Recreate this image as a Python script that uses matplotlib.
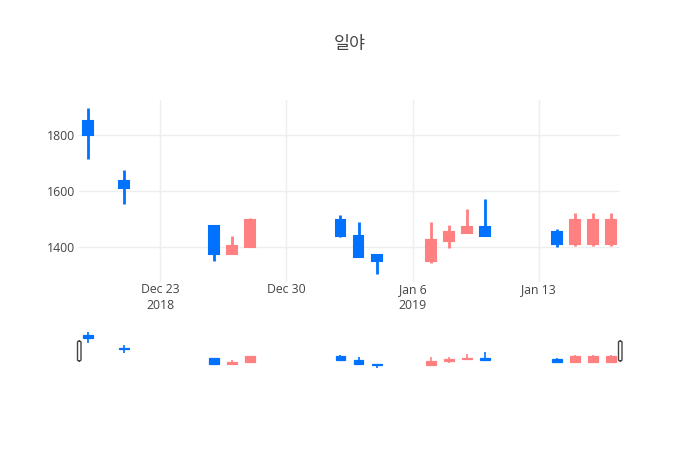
import matplotlib
matplotlib.use("Agg")
import matplotlib.pyplot as plt
import matplotlib.dates as mdates
from matplotlib.patches import FancyBboxPatch
import pandas as pd

plt.rcParams['font.family'] = ['Open Sans', 'Noto Sans CJK KR', 'DejaVu Sans']

# candle data
dates = ['2018-12-19', '2018-12-21', '2018-12-26', '2018-12-27', '2018-12-28',
         '2019-01-02', '2019-01-03', '2019-01-04', '2019-01-07', '2019-01-08',
         '2019-01-09', '2019-01-10', '2019-01-14', '2019-01-15', '2019-01-16',
         '2019-01-17']
opens = [1850, 1635, 1475, 1375, 1400, 1495, 1440, 1370, 1350, 1420, 1450, 1470, 1455, 1410, 1410, 1410]
highs = [1895, 1675, 1475, 1440, 1505, 1515, 1490, 1370, 1490, 1480, 1535, 1570, 1465, 1520, 1520, 1520]
lows = [1715, 1555, 1350, 1375, 1400, 1435, 1365, 1305, 1345, 1395, 1450, 1440, 1400, 1405, 1405, 1405]
closes = [1800, 1610, 1375, 1405, 1495, 1440, 1365, 1350, 1425, 1455, 1470, 1440, 1410, 1495, 1495, 1495]

tick_dates = ['2018-12-23', '2018-12-30', '2019-01-06', '2019-01-13']
tick_labels = ['Dec 23\n2018', 'Dec 30', 'Jan 6\n2019', 'Jan 13']
y_ticks = [1400, 1600, 1800]

UP = '#ff8080'
DOWN = '#0072ff'

x = mdates.date2num(pd.to_datetime(dates))
colors = [UP if c >= o else DOWN for o, c in zip(opens, closes)]
xmin, xmax = x.min() - 0.5, x.max() + 0.5
span = max(highs) - min(lows)
ymin, ymax = min(lows) - 0.05 * span, max(highs) + 0.05 * span


def draw_candles(ax, lw):
    ax.vlines(x, lows, highs, colors=colors, linewidth=lw, zorder=2)
    bottoms = [min(o, c) for o, c in zip(opens, closes)]
    heights = [max(abs(c - o), 1) for o, c in zip(opens, closes)]
    ax.bar(x, heights, width=0.55, bottom=bottoms, color=colors,
           edgecolor=colors, linewidth=lw * 0.75, zorder=3)


fig = plt.figure(figsize=(7, 4.5), dpi=100)
W, H = 700, 450

ax = fig.add_axes([79 / W, 1 - 282 / H, 541 / W, 182 / H])
draw_candles(ax, 2)
ax.set_xlim(xmin, xmax)
ax.set_ylim(ymin, ymax)
ax.set_xticks(mdates.date2num(pd.to_datetime(tick_dates)))
ax.set_xticklabels(tick_labels)
ax.set_yticks(y_ticks)
ax.set_yticklabels([str(v) for v in y_ticks])
ax.tick_params(length=0, labelsize=8.8, colors='#444444', pad=3)
ax.tick_params(axis='x', pad=1)
for lab in ax.get_xticklabels():
    lab.set_linespacing(1.3)
ax.grid(True, color='#eeeeee', linewidth=1, zorder=0)
ax.set_axisbelow(True)
for s in ax.spines.values():
    s.set_visible(False)

# range slider
sl = fig.add_axes([79 / W, 1 - 370 / H, 541 / W, 40 / H])
draw_candles(sl, 1.2)
sl.set_xlim(xmin, xmax)
sl.set_ylim(ymin, ymax)
sl.set_xticks([])
sl.set_yticks([])
for s in sl.spines.values():
    s.set_visible(False)

for px in (77.5, 618.5):
    fig.patches.append(FancyBboxPatch((px / W, 1 - 361 / H), 3.5 / W, 20 / H,
                                      boxstyle='round,pad=0,rounding_size=0.003',
                                      transform=fig.transFigure, facecolor='white',
                                      edgecolor='#444444', linewidth=1, zorder=5))

fig.text(0.5, 1 - 44 / H, '일야', ha='center', va='center', fontsize=12.5,
         color='#444444', family=['Noto Sans CJK KR', 'DejaVu Sans'])

fig.savefig('out.png', dpi=100, facecolor='white')
